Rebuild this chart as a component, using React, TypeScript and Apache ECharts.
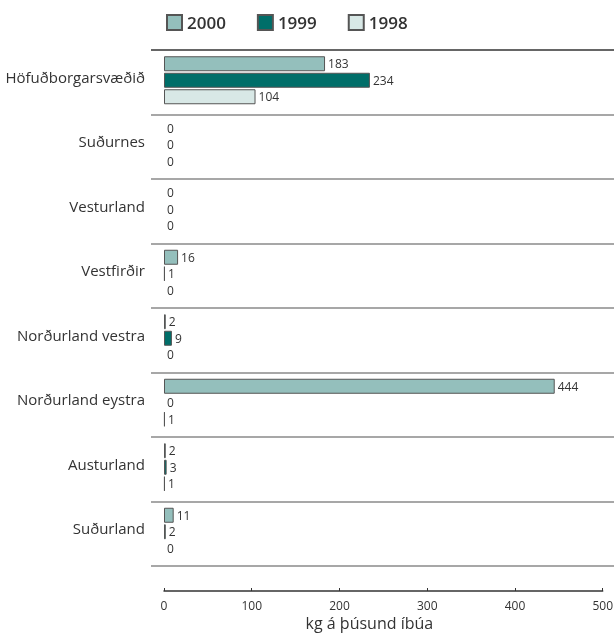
import React, { useEffect, useRef } from "react";
import * as echarts from "echarts";

const categories = [
  "Höfuðborgarsvæðið",
  "Suðurnes",
  "Vesturland",
  "Vestfirðir",
  "Norðurland vestra",
  "Norðurland eystra",
  "Austurland",
  "Suðurland",
];
const years = ["2000", "1999", "1998"];
const values2000 = [183, 0, 0, 16, 2, 444, 2, 11];
const values1999 = [234, 0, 0, 1, 9, 0, 3, 2];
const values1998 = [104, 0, 0, 0, 0, 1, 1, 0];
const xTicks = [0, 100, 200, 300, 400, 500];
const xName = "kg á þúsund íbúa";

const colors: Record<string, string> = {
  "2000": "#94bfbc",
  "1999": "#006e69",
  "1998": "#d8e8e6",
};

const FONT = "Open Sans";

export default function App() {
  const ref = useRef<HTMLDivElement>(null);
  useEffect(() => {
    if (!ref.current) return;
    const chart = echarts.init(ref.current, undefined, { renderer: "svg" });
    const seriesValues: Record<string, number[]> = {
      "2000": values2000,
      "1999": values1999,
      "1998": values1998,
    };
    const sepColors = categories.map(() => "#8a8a8a");
    sepColors.unshift("#333333");
    sepColors.push("#333333");
    const xMax = xTicks[xTicks.length - 1];
    chart.setOption({
      animation: false,
      textStyle: { fontFamily: FONT },
      legend: {
        data: years,
        left: 166,
        top: 14,
        padding: 0,
        itemWidth: 15,
        itemHeight: 15,
        itemGap: 31,
        icon: "rect",
        textStyle: { fontSize: 17, fontWeight: 600, color: "#333", fontFamily: FONT },
      },
      grid: [
        { left: 151, right: 2, top: 50, bottom: 70, containLabel: false },
        { left: 164, right: 12, top: 48, bottom: 72, containLabel: false },
        { left: 164, right: 12, top: 580, bottom: 45, containLabel: false },
      ],
      xAxis: [
        { type: "value", gridIndex: 0, show: false, min: 0, max: xMax, splitLine: { show: false } },
        { type: "value", gridIndex: 1, show: false, min: 0, max: xMax, splitLine: { show: false } },
        {
          type: "value",
          gridIndex: 2,
          min: 0,
          max: xMax,
          interval: 100,
          axisLine: { show: true, lineStyle: { color: "#333", width: 1.5 } },
          axisTick: { show: true, inside: true, length: 3, lineStyle: { color: "#333" } },
          axisLabel: { fontSize: 12, color: "#333", margin: 8, fontFamily: FONT },
          splitLine: { show: false },
          name: xName,
          nameLocation: "middle",
          nameGap: 24,
          nameTextStyle: { fontSize: 16, color: "#333", padding: [0, 28, 0, 0], fontFamily: FONT },
        },
      ],
      yAxis: [
        {
          type: "category",
          gridIndex: 0,
          data: categories,
          inverse: true,
          axisLine: { show: false },
          axisTick: { show: false },
          axisLabel: {
            fontSize: 15,
            color: "#333",
            margin: 6,
            fontFamily: FONT,
            verticalAlign: "bottom",
            lineHeight: 11,
          },
          splitLine: { show: true, lineStyle: { color: sepColors, width: 1.5 } },
        },
        {
          type: "category",
          gridIndex: 1,
          data: categories,
          inverse: true,
          show: false,
        },
        {
          type: "value",
          gridIndex: 2,
          min: 0,
          max: 1,
          show: false,
          splitLine: { show: false },
        },
      ],
      series: years.map((y) => ({
        name: y,
        type: "bar",
        xAxisIndex: 1,
        yAxisIndex: 1,
        barWidth: 15,
        barGap: "10%",
        itemStyle: { color: colors[y], borderColor: "#555", borderWidth: 1 },
        label: {
          show: true,
          position: "right",
          distance: 3,
          fontSize: 12,
          color: "#333",
          fontFamily: FONT,
        },
        data: seriesValues[y].map((v) => ({
          value: v,
          itemStyle: v === 0 ? { borderWidth: 0 } : {},
        })),
      })),
    });
    return () => chart.dispose();
  }, []);
  return (
    <div
      ref={ref}
      style={{ position: "fixed", left: 0, top: 0, width: 616, height: 636 }}
    />
  );
}
